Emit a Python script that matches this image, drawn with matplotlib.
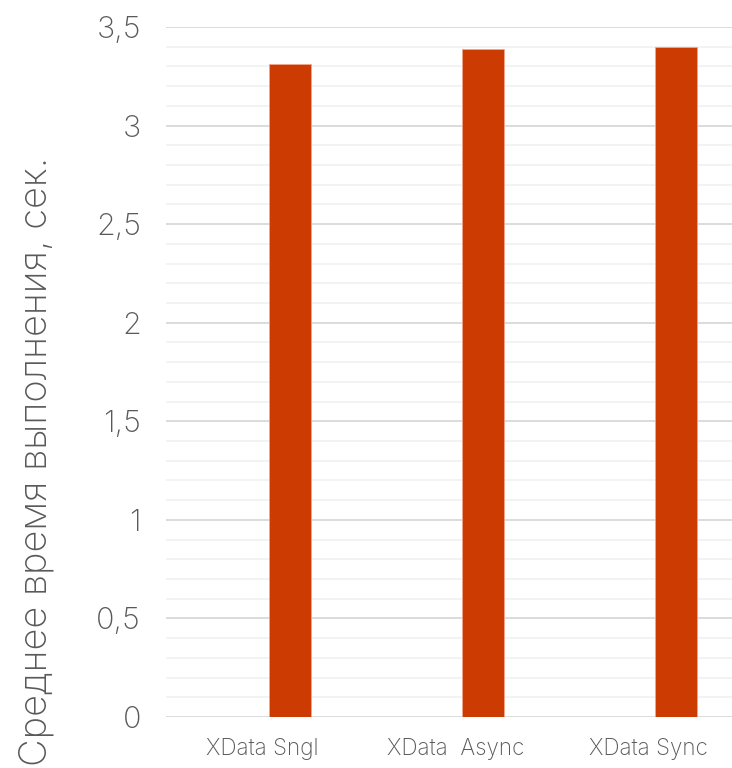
import numpy as np
import matplotlib
matplotlib.use("Agg")
import matplotlib.pyplot as plt
from matplotlib.ticker import MultipleLocator, FuncFormatter

# mean execution time per mode
modes = ["XData Sngl", "XData  Async", "XData Sync"]
mean_time = [3.31, 3.39, 3.40]

plt.rcParams['font.family'] = ['Inter', 'DejaVu Sans']
grey = '#595959'

fig = plt.figure(figsize=(7.32, 7.68), dpi=100)
ax = fig.add_axes([166 / 732, 1 - 717 / 768, 579 / 732, 690 / 768])

x = np.arange(len(modes))
ax.bar(x + 0.1425, mean_time, width=0.218, color='#CC3B02',
       edgecolor='#F2A58A', linewidth=0.6, zorder=3)

ax.set_xlim(-0.5, 2.5)
ax.set_ylim(0, 3.5)
ax.yaxis.set_major_locator(MultipleLocator(0.5))
ax.yaxis.set_minor_locator(MultipleLocator(0.1))
ax.yaxis.set_major_formatter(FuncFormatter(lambda v, p: ('%g' % v).replace('.', ',')))
ax.grid(axis='y', which='major', color='#D9D9D9', linewidth=1.3, zorder=0)
ax.grid(axis='y', which='minor', color='#F0F0F0', linewidth=1.1, zorder=0)
ax.grid(axis='x', visible=False)

ax.set_xticks(x)
ax.set_xticklabels(modes)
ax.tick_params(axis='x', length=0, pad=15, labelsize=16.2, labelcolor=grey)
ax.tick_params(axis='y', which='both', length=0, pad=18, labelsize=22, labelcolor=grey)
for lbl in ax.get_yticklabels() + ax.get_xticklabels():
    lbl.set_fontweight('light')

for s in ax.spines.values():
    s.set_visible(False)

fig.text(37 / 732, 1 - 461 / 768, 'Среднее время выполнения, сек.',
         rotation=90, ha='center', va='center', fontsize=27.4,
         color=grey, fontweight='light')

fig.savefig('out.png', dpi=100)
